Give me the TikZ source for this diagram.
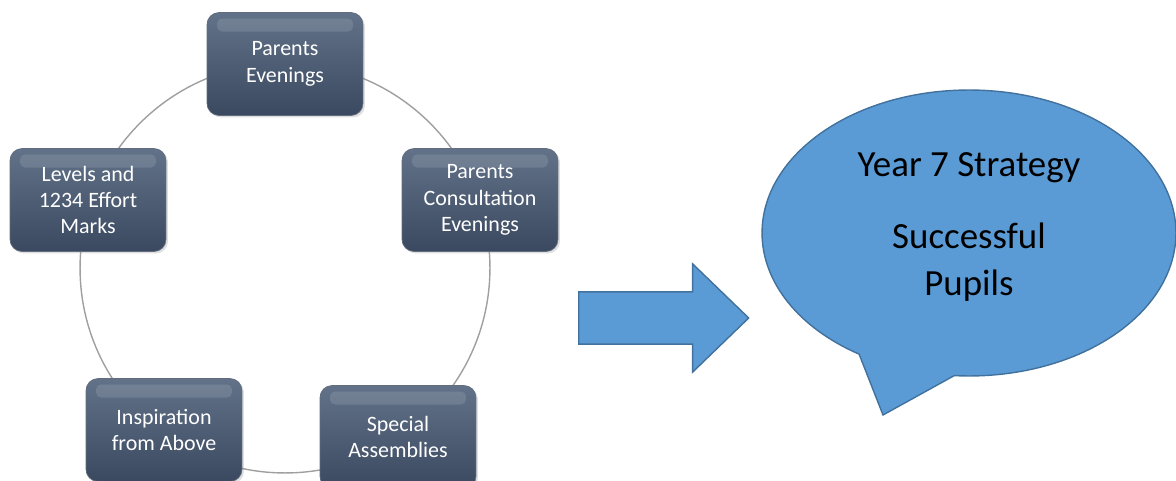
\documentclass[tikz,border=0pt]{standalone}
\usepackage{fontspec}
\setmainfont{Carlito}
\usetikzlibrary{shapes.arrows, shapes.callouts, shadows}
\definecolor{slatetop}{HTML}{627289}
\definecolor{slatebot}{HTML}{3A495F}
\definecolor{calloutblue}{HTML}{5B9BD5}
\definecolor{calloutedge}{HTML}{41719C}
\tikzset{
  stepbox/.style={rectangle, rounded corners=0.24cm, draw=slatebot!80!white,
    top color=slatetop, bottom color=slatebot, text=white, align=center,
    minimum width=3.12cm, minimum height=2.06cm, font=\fontsize{12.5}{15}\selectfont,
    drop shadow={opacity=0.25, shadow xshift=0.04cm, shadow yshift=-0.04cm},
    path picture={\fill[white, opacity=0.12, rounded corners=0.1cm]
      ([xshift=0.2cm, yshift=-0.12cm]path picture bounding box.north west) rectangle
      ([xshift=-0.2cm, yshift=-0.38cm]path picture bounding box.north east);}},
  bigtext/.style={font=\fontsize{21}{25}\selectfont, align=center}
}
\begin{document}
\begin{tikzpicture}[x=0.02cm, y=0.02cm]
  \useasboundingbox (0,0) rectangle (1176,480);
  % \draw[help lines] (0,0) grid[step=100] (1176,480);
  \coordinate (hub) at (285, 212);
  \draw[gray!75, line width=0.8pt] (hub) circle [radius=4.1cm];

  \node at (285, 416) [stepbox] (pe) {Parents\\Evenings};
  \node at (480, 280) [stepbox] (pc) {Parents\\Consultation\\Evenings};
  \node at (398, 43) [stepbox] (sa) {Special\\Assemblies};
  \node at (164, 50) [stepbox] (ia) {Inspiration\\from Above};
  \node at (88, 280) [stepbox] (lm) {Levels and\\1234 Effort\\Marks};

  \node at (578, 162) [single arrow, anchor=tail, fill=calloutblue, draw=calloutedge,
    line width=0.8pt, minimum height=3.4cm, single arrow head extend=0.56cm,
    inner xsep=0, inner ysep=0.51cm, single arrow tip angle=88] (go) {};

  \coordinate (tail) at (883, 65);
  \node at (969, 247) [ellipse callout, fill=calloutblue, draw=calloutedge, line width=0.8pt,
    minimum width=8.28cm, minimum height=5.72cm, callout absolute pointer={(tail)},
    callout pointer arc=28] (bubble) {};
  \node at (969, 312) [bigtext] (goal) {Year 7 Strategy};
  \node at (969, 218) [bigtext] (pupils) {Successful\\[2pt]Pupils};
\end{tikzpicture}
\end{document}
